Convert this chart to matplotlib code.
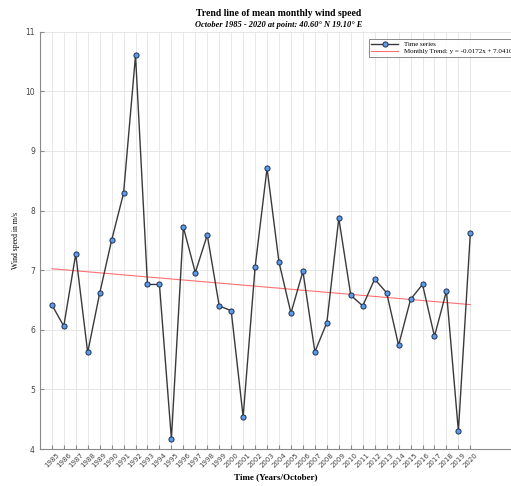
import numpy as np
import matplotlib
matplotlib.use("Agg")
import matplotlib.pyplot as plt

# mean October wind speed (m/s)
years = list(range(1985, 2021))
wind = [6.42, 6.06, 7.27, 5.62, 6.61, 7.50, 8.29, 10.60, 6.76, 6.76,
        4.17, 7.72, 6.96, 7.59, 6.40, 6.32, 4.54, 7.05, 8.71, 7.13,
        6.28, 6.98, 5.63, 6.12, 7.87, 6.58, 6.40, 6.85, 6.62, 5.74,
        6.51, 6.76, 5.89, 6.65, 4.30, 7.62]
slope = -0.0172
intercept = 7.0410

title = "Trend line of mean monthly wind speed"
subtitle = "October 1985 - 2020 at point: 40.60° N 19.10° E"

fig = plt.figure(figsize=(5.11, 4.86), dpi=100)
ax = fig.add_axes([0.078, 0.076, 0.922, 0.859])

# trend over the index 1..N
idx = np.arange(1, len(years) + 1)
trend = slope * idx + intercept

ax.plot(years, wind, color="#3a3a3a", lw=1.0, marker="o", ms=3.7,
        mfc="#5b9be8", mec="#1f2f4f", mew=0.7, label="Time series", zorder=3)
ax.plot(years, trend, color="#ff7070", lw=0.8,
        label="Monthly Trend: y = %.4fx + %.4f" % (slope, intercept), zorder=2)

ax.set_xlim(1984, 2023.4)
ax.set_ylim(4, 11)
ax.set_xticks(years)
ax.set_xticklabels([str(y) for y in years], rotation=45, fontsize=5,
                   color="#444444", ha="center", va="top")
ax.set_yticks(range(4, 12))
ax.tick_params(axis="y", labelsize=5.5, labelcolor="#444444", direction="in",
               length=3, color="#888888")
ax.tick_params(axis="x", direction="in", length=3, color="#888888", pad=2)

ax.grid(True, color="#e3e3e3", lw=0.6)
ax.set_axisbelow(True)
for s in ["top", "right"]:
    ax.spines[s].set_visible(False)
for s in ["left", "bottom"]:
    ax.spines[s].set_color("#8a8a8a")
    ax.spines[s].set_linewidth(0.8)

ax.set_xlabel("Time (Years/October)", fontsize=6.5, fontweight="bold",
              family="Liberation Serif", labelpad=3)
ax.set_ylabel("Wind speed in m/s", fontsize=5.5, family="Liberation Serif",
              labelpad=4)

fig.text(0.545, 0.972, title, ha="center", va="center", fontsize=7,
         fontweight="bold", family="Liberation Serif")
fig.text(0.545, 0.949, subtitle, ha="center", va="center", fontsize=6,
         fontweight="bold", style="italic", family="Liberation Serif")

leg = ax.legend(loc="upper right", bbox_to_anchor=(1.015, 0.99),
                prop={"family": "Liberation Serif", "size": 5},
                frameon=True, fancybox=False, edgecolor="#555555",
                handlelength=4, borderpad=0.3, labelspacing=0.2)
leg.get_frame().set_linewidth(0.6)

fig.savefig("out.png", dpi=100)
